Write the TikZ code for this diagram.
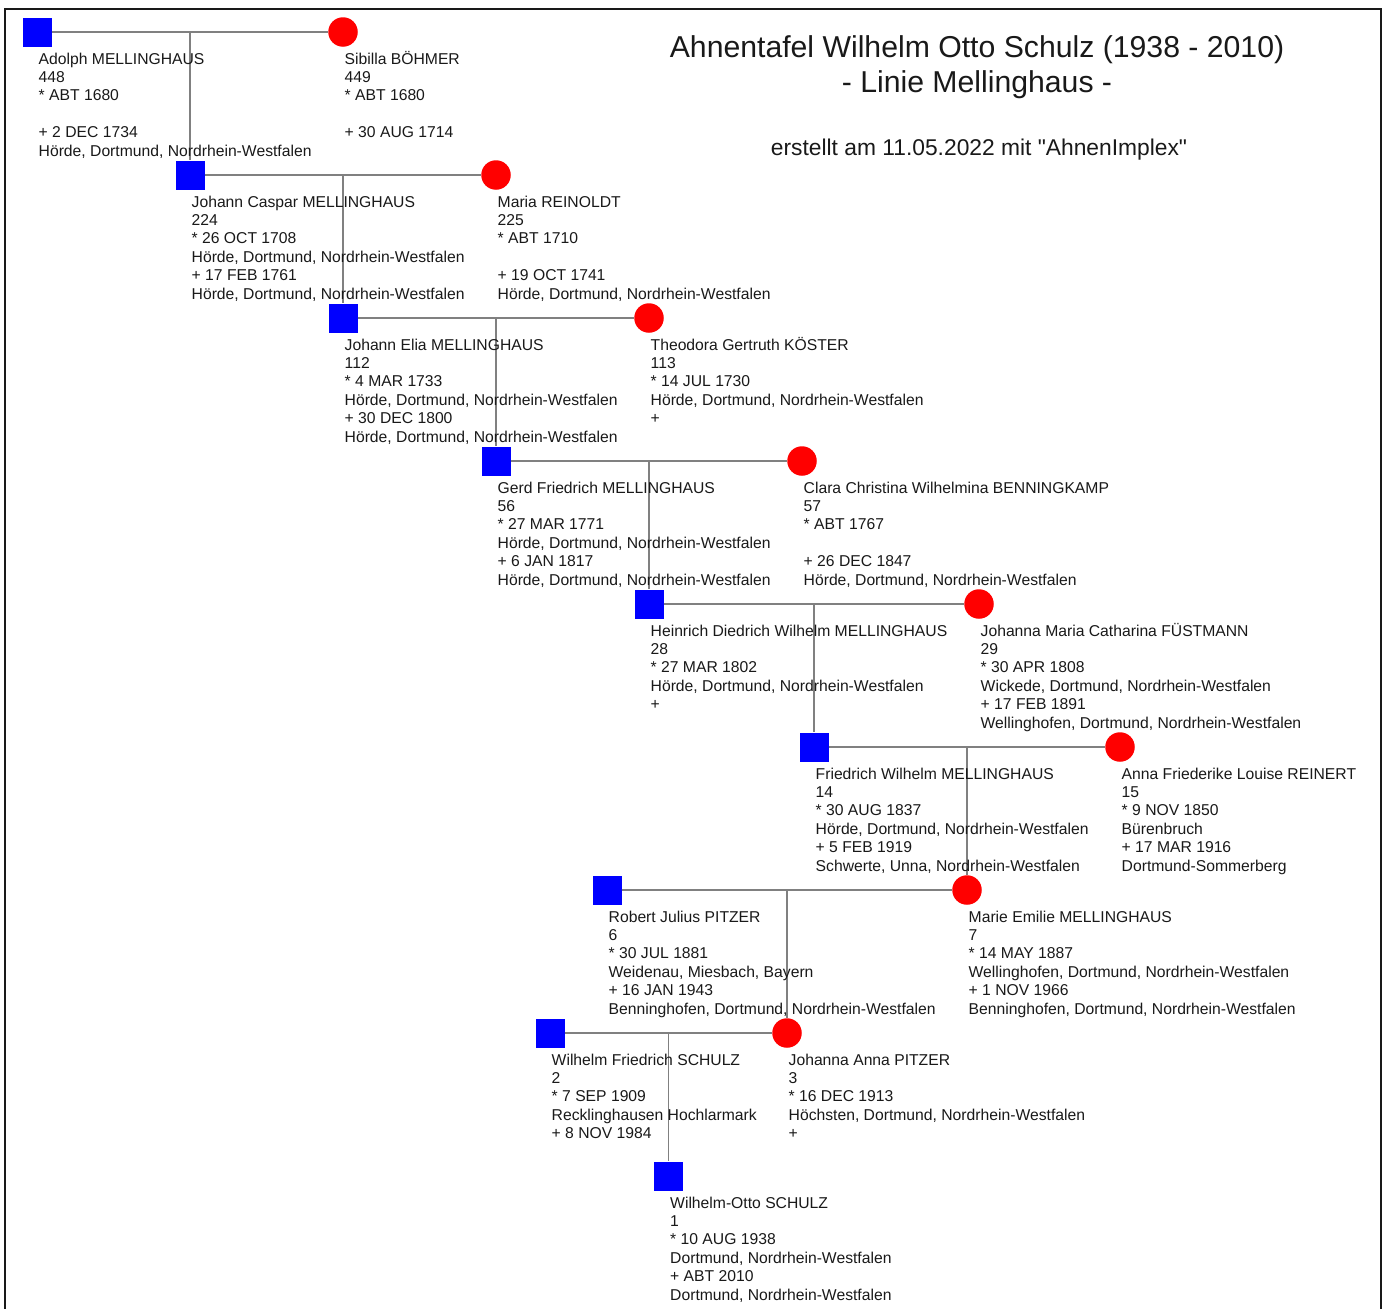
\documentclass[tikz,border=0pt]{standalone}
\usepackage{fontspec}
\setmainfont{Liberation Sans}
\newfontfamily\rawfont{Liberation Sans}[Ligatures=TeXOff]
\usetikzlibrary{calc}
\newcommand\pinfo[1]{\vtop{\baselineskip=18.45pt\lineskiplimit=-100pt\lineskip=0pt\halign{##\hfil\cr#1\crcr}}}
\begin{document}
\begin{tikzpicture}[x=1pt,y=-1pt,
  male/.style={rectangle, fill=blue, minimum size=29pt, inner sep=0pt},
  female/.style={circle, fill=red, minimum size=29.5pt, inner sep=0pt},
  info/.style={anchor=base west, inner sep=0pt, text=black!90, font=\fontsize{15.7}{18.45}\selectfont},
  conn/.style={draw=black!50, line width=1.1pt},
  frame/.style={draw=black!90, line width=2.2pt}]
\useasboundingbox (0,0) rectangle (1387,1309);
\draw[frame] (5.3,1312) -- (5.3,9) -- (1381,9) -- (1381,1312);

% title
\node[anchor=base, inner sep=0pt, text=black!90, font=\fontsize{30.2}{36}\selectfont] (title1) at (977,57) {Ahnentafel Wilhelm Otto Schulz (1938 - 2010)};
\node[anchor=base, inner sep=0pt, text=black!90, font=\fontsize{30.2}{36}\selectfont] (title2) at (977,92) {- Linie Mellinghaus -};
\node[anchor=base, inner sep=0pt, text=black!90, font=\rawfont\fontsize{22.8}{27}\selectfont] (title3) at (979,155) {erstellt am 11.05.2022 mit "AhnenImplex"};

% persons (shapes)
\node[male]   (p448) at (37,32) {};
\node[female] (p449) at (343,32) {};
\node[male]   (p224) at (190,175) {};
\node[female] (p225) at (496,175) {};
\node[male]   (p112) at (343,318) {};
\node[female] (p113) at (649,318) {};
\node[male]   (p56)  at (496,461) {};
\node[female] (p57)  at (802,461) {};
\node[male]   (p28)  at (649,604) {};
\node[female] (p29)  at (979,604) {};
\node[male]   (p14)  at (814,747) {};
\node[female] (p15)  at (1120,747) {};
\node[male]   (p6)   at (607,890) {};
\node[female] (p7)   at (967,890) {};
\node[male]   (p2)   at (550,1033) {};
\node[female] (p3)   at (787,1033) {};
\node[male]   (p1)   at (668.5,1176) {};

% connectors
\foreach \a/\b/\c [count=\i] in {p448/p449/p224, p224/p225/p112, p112/p113/p56, p56/p57/p28, p28/p29/p14, p14/p15/p7, p6/p7/p3, p2/p3/p1}{
  \coordinate (m\i) at ($(\a)!0.5!(\b)$);
  \draw[conn] (\a) -- (\b);
  \draw[conn] (m\i) -- (\c.north);
}

% texts
\node[info] (t448) at (38.5,64) {\pinfo{Adolph MELLINGHAUS\cr 448\cr * ABT 1680\cr\cr + 2 DEC 1734\cr Hörde, Dortmund, Nordrhein-Westfalen}};
\node[info] (t449) at (344.5,64) {\pinfo{Sibilla BÖHMER\cr 449\cr * ABT 1680\cr\cr + 30 AUG 1714}};
\node[info] (t224) at (191.5,207) {\pinfo{Johann Caspar MELLINGHAUS\cr 224\cr * 26 OCT 1708\cr Hörde, Dortmund, Nordrhein-Westfalen\cr + 17 FEB 1761\cr Hörde, Dortmund, Nordrhein-Westfalen}};
\node[info] (t225) at (497.5,207) {\pinfo{Maria REINOLDT\cr 225\cr * ABT 1710\cr\cr + 19 OCT 1741\cr Hörde, Dortmund, Nordrhein-Westfalen}};
\node[info] (t112) at (344.5,350) {\pinfo{Johann Elia MELLINGHAUS\cr 112\cr * 4 MAR 1733\cr Hörde, Dortmund, Nordrhein-Westfalen\cr + 30 DEC 1800\cr Hörde, Dortmund, Nordrhein-Westfalen}};
\node[info] (t113) at (650.5,350) {\pinfo{Theodora Gertruth KÖSTER\cr 113\cr * 14 JUL 1730\cr Hörde, Dortmund, Nordrhein-Westfalen\cr +}};
\node[info] (t56) at (497.5,493) {\pinfo{Gerd Friedrich MELLINGHAUS\cr 56\cr * 27 MAR 1771\cr Hörde, Dortmund, Nordrhein-Westfalen\cr + 6 JAN 1817\cr Hörde, Dortmund, Nordrhein-Westfalen}};
\node[info] (t57) at (803.5,493) {\pinfo{Clara Christina Wilhelmina BENNINGKAMP\cr 57\cr * ABT 1767\cr\cr + 26 DEC 1847\cr Hörde, Dortmund, Nordrhein-Westfalen}};
\node[info] (t28) at (650.5,636) {\pinfo{Heinrich Diedrich Wilhelm MELLINGHAUS\cr 28\cr * 27 MAR 1802\cr Hörde, Dortmund, Nordrhein-Westfalen\cr +}};
\node[info] (t29) at (980.5,636) {\pinfo{Johanna Maria Catharina FÜSTMANN\cr 29\cr * 30 APR 1808\cr Wickede, Dortmund, Nordrhein-Westfalen\cr + 17 FEB 1891\cr Wellinghofen, Dortmund, Nordrhein-Westfalen}};
\node[info] (t14) at (815.5,779) {\pinfo{Friedrich Wilhelm MELLINGHAUS\cr 14\cr * 30 AUG 1837\cr Hörde, Dortmund, Nordrhein-Westfalen\cr + 5 FEB 1919\cr Schwerte, Unna, Nordrhein-Westfalen}};
\node[info] (t15) at (1121.5,779) {\pinfo{Anna Friederike Louise REINERT\cr 15\cr * 9 NOV 1850\cr Bürenbruch\cr + 17 MAR 1916\cr Dortmund-Sommerberg}};
\node[info] (t6) at (608.5,922) {\pinfo{Robert Julius PITZER\cr 6\cr * 30 JUL 1881\cr Weidenau, Miesbach, Bayern\cr + 16 JAN 1943\cr Benninghofen, Dortmund, Nordrhein-Westfalen}};
\node[info] (t7) at (968.5,922) {\pinfo{Marie Emilie MELLINGHAUS\cr 7\cr * 14 MAY 1887\cr Wellinghofen, Dortmund, Nordrhein-Westfalen\cr + 1 NOV 1966\cr Benninghofen, Dortmund, Nordrhein-Westfalen}};
\node[info] (t2) at (551.5,1065) {\pinfo{Wilhelm Friedrich SCHULZ\cr 2\cr * 7 SEP 1909\cr Recklinghausen Hochlarmark\cr + 8 NOV 1984}};
\node[info] (t3) at (788.5,1065) {\pinfo{Johanna Anna PITZER\cr 3\cr * 16 DEC 1913\cr Höchsten, Dortmund, Nordrhein-Westfalen\cr +}};
\node[info] (t1) at (670,1208) {\pinfo{Wilhelm-Otto SCHULZ\cr 1\cr * 10 AUG 1938\cr Dortmund, Nordrhein-Westfalen\cr + ABT 2010\cr Dortmund, Nordrhein-Westfalen}};
\end{tikzpicture}
\end{document}
